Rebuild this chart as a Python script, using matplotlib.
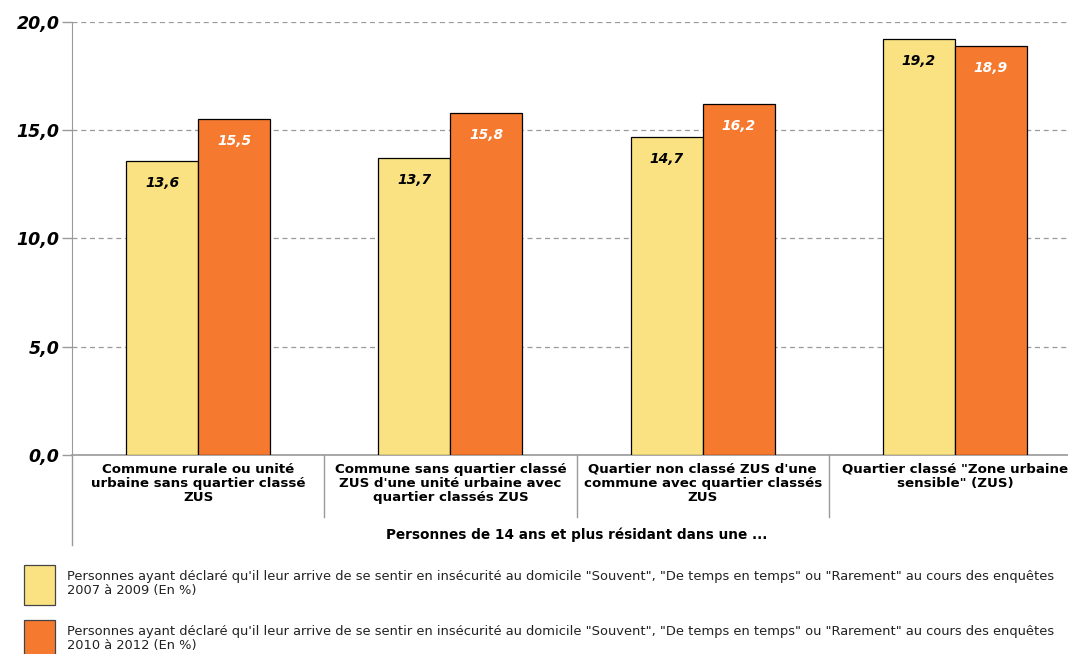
import matplotlib.pyplot as plt
from matplotlib.patches import Patch
import numpy as np

categories = [
    "Commune rurale ou unité\nurbaine sans quartier classé\nZUS",
    "Commune sans quartier classé\nZUS d'une unité urbaine avec\nquartier classés ZUS",
    "Quartier non classé ZUS d'une\ncommune avec quartier classés\nZUS",
    "Quartier classé \"Zone urbaine\nsensible\" (ZUS)",
]
values_2007_2009 = [13.6, 13.7, 14.7, 19.2]
values_2010_2012 = [15.5, 15.8, 16.2, 18.9]
yticks = [0, 5, 10, 15, 20]
legend_labels = [
    "Personnes ayant déclaré qu'il leur arrive de se sentir en insécurité au domicile "
    "\"Souvent\", \"De temps en temps\" ou \"Rarement\" au cours des enquêtes\n2007 à 2009 (En %)",
    "Personnes ayant déclaré qu'il leur arrive de se sentir en insécurité au domicile "
    "\"Souvent\", \"De temps en temps\" ou \"Rarement\" au cours des enquêtes\n2010 à 2012 (En %)",
]
xlabel = "Personnes de 14 ans et plus résidant dans une ..."

yellow = '#FAE282'
orange = '#F5792E'
grey = '#9A9A9A'

plt.rcParams['font.family'] = ['DejaVu Sans']

fig = plt.figure(figsize=(10.68, 6.54), dpi=100)
W, H = 1068, 654
ax = fig.add_axes([72 / W, (H - 455) / H, (1081 - 72) / W, (455 - 22) / H])

x = np.arange(len(categories))
w = 0.285
ax.bar(x - w / 2, values_2007_2009, w, color=yellow, edgecolor='black', linewidth=0.9, zorder=3)
ax.bar(x + w / 2, values_2010_2012, w, color=orange, edgecolor='black', linewidth=0.9, zorder=3)

# value labels inside the top of each bar
for xi, v in zip(x, values_2007_2009):
    ax.annotate(f"{v:.1f}".replace('.', ','), (xi - w / 2, v), xytext=(0, -22),
                textcoords='offset pixels', ha='center', va='center',
                fontsize=10, fontweight='bold', fontstyle='italic', color='black', zorder=4)
for xi, v in zip(x, values_2010_2012):
    ax.annotate(f"{v:.1f}".replace('.', ','), (xi + w / 2, v), xytext=(0, -22),
                textcoords='offset pixels', ha='center', va='center',
                fontsize=10, fontweight='bold', fontstyle='italic', color='white', zorder=4)

ax.set_xlim(-0.5, len(categories) - 0.5)
ax.set_ylim(0, 20)
ax.set_yticks(yticks)
ax.set_yticklabels([f"{t:.1f}".replace('.', ',') for t in yticks],
                   fontsize=12.5, fontweight='bold', fontstyle='italic')
ax.tick_params(axis='y', length=7, color=grey, width=1, pad=2)
ax.yaxis.grid(True, linestyle=(0, (4, 3)), color=grey, linewidth=0.9, zorder=0)
ax.set_xticks([])

for s in ['top', 'right']:
    ax.spines[s].set_visible(False)
ax.spines['left'].set_color(grey)
ax.spines['bottom'].set_color(grey)
ax.spines['bottom'].set_linewidth(1.2)

# extend the left axis line and the category separators below the plot
px = 1 / (455 - 22)
ax.plot([0, 0], [0, -90 * px], transform=ax.transAxes, color=grey, lw=1, clip_on=False)
for i in range(1, len(categories) + 1):
    xb = i / len(categories)
    ax.plot([xb, xb], [0, -62 * px], transform=ax.transAxes, color=grey, lw=1, clip_on=False)

for xi, lab in zip(x, categories):
    ax.annotate(lab, (xi, 0), xytext=(0, -8), textcoords='offset pixels',
                ha='center', va='top', fontsize=9.6, fontweight='bold',
                linespacing=1.1)

ax.text(0.5, -80 * px, xlabel, transform=ax.transAxes, ha='center', va='center',
        fontsize=9.8, fontweight='bold')

handles = [Patch(facecolor=yellow, edgecolor='#444444', linewidth=0.9),
           Patch(facecolor=orange, edgecolor='#444444', linewidth=0.9)]
leg = fig.legend(handles, legend_labels, loc='upper left', bbox_to_anchor=(19 / W, 1 - 560 / H),
                 frameon=False, fontsize=9.4, handlelength=2.37, handleheight=4.34,
                 handletextpad=0.9, labelspacing=1.15, borderaxespad=0)
for t in leg.get_texts():
    t.set_linespacing(1.1)
    t.set_color('#222222')

plt.savefig('out.png', dpi=100)
